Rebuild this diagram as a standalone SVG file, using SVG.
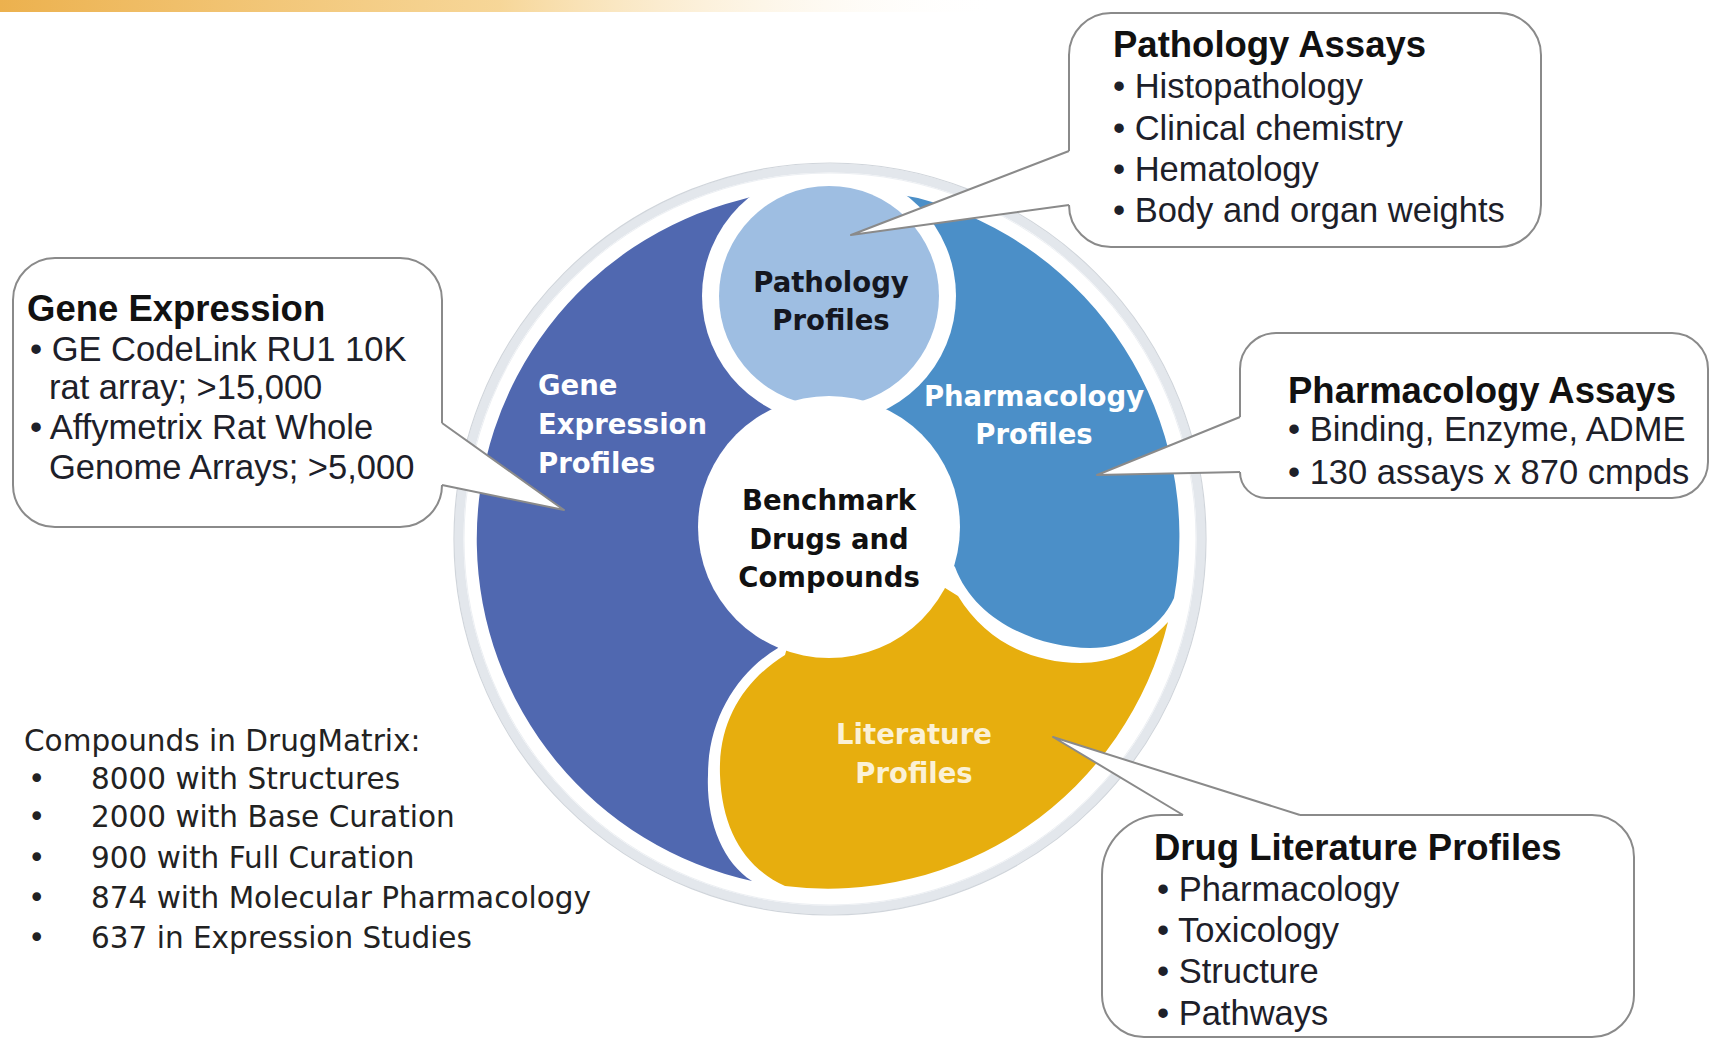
<svg xmlns="http://www.w3.org/2000/svg" width="1711" height="1040" viewBox="0 0 1711 1040">
<defs>
<linearGradient id="topband" x1="0" y1="0" x2="1" y2="0">
<stop offset="0" stop-color="#ECB14E"/>
<stop offset="0.5" stop-color="#F5CF86" stop-opacity="0.85"/>
<stop offset="1" stop-color="#FFFFFF" stop-opacity="0"/>
</linearGradient>
<style>
.bt{font-family:"Liberation Sans",Arial,sans-serif;font-size:34.5px;fill:#1d2029}
.bh{font-family:"Liberation Sans",Arial,sans-serif;font-size:36.5px;font-weight:bold;fill:#111}
.lab{font-family:"DejaVu Sans",Verdana,sans-serif;font-size:27.5px;font-weight:bold}
.lst{font-family:"DejaVu Sans",Verdana,sans-serif;font-size:29.5px;fill:#222}
.cf{fill:#fff}
.co{fill:none;stroke:#8a8a8a;stroke-width:2;stroke-linejoin:round}
</style>
</defs>
<rect width="1711" height="1040" fill="#fff"/>
<rect x="0" y="0" width="1000" height="12" fill="url(#topband)"/>

<g id="wheel">
<g id="gene-expression-profiles">
<path d="M740,200 A350,350 0 0 0 752,881 C722,862 706,820 708,775 C708,718 738,672 778,648 L800,560 L790,420 L800,300 L775,190 Z" fill="#5068B0"/>
</g>
<g id="pharmacology-profiles">
<path d="M918,198 A350,350 0 0 1 1174,598 C1160,630 1125,648 1090,648 C1040,648 975,622 955,567 L880,480 L870,420 L860,300 L885,192 Z" fill="#4B8FC8"/>
</g>
<g id="literature-profiles">
<path d="M785,655 C745,680 718,720 720,775 C722,830 745,868 785,886 A350,350 0 0 0 1168,622 C1140,652 1110,663 1080,663 C1030,663 985,640 958,596 L900,560 L800,600 Z" fill="#E7AE0E"/>
</g>
<g id="pathology-profiles">
<circle cx="829" cy="296" r="127" fill="#fff"/>
<circle cx="829" cy="296" r="110" fill="#9EBEE2"/>
</g>
<g id="benchmark">
<circle cx="829" cy="527" r="131" fill="#fff"/>
</g>
<g id="ring">
<circle cx="830" cy="539" r="371" fill="none" stroke="#e3e7ec" stroke-width="9"/>
<circle cx="830" cy="539" r="376" fill="none" stroke="#d0d5db" stroke-width="1.2"/>
<circle cx="830" cy="539" r="366" fill="none" stroke="#eceff3" stroke-width="1"/>
</g>
<g id="wheel-labels">
<text class="lab" fill="#fff"><tspan x="538" y="395">Gene</tspan><tspan x="538" y="434">Expression</tspan><tspan x="538" y="473">Profiles</tspan></text>
<text class="lab" fill="#15171f" text-anchor="middle"><tspan x="831" y="292">Pathology</tspan><tspan x="831" y="330">Profiles</tspan></text>
<text class="lab" fill="#fff" text-anchor="middle"><tspan x="1034" y="406">Pharmacology</tspan><tspan x="1034" y="444">Profiles</tspan></text>
<text class="lab" fill="#111" text-anchor="middle"><tspan x="829" y="510">Benchmark</tspan><tspan x="829" y="549">Drugs and</tspan><tspan x="829" y="587">Compounds</tspan></text>
<text class="lab" fill="#fbf1d6" text-anchor="middle"><tspan x="914" y="744">Literature</tspan><tspan x="914" y="783">Profiles</tspan></text>
</g>
</g>

<g id="callout-pathology-assays">
<path class="cf" d="M1111,13 H1499 A42,42 0 0 1 1541,55 V205 A42,42 0 0 1 1499,247 H1111 A42,42 0 0 1 1069,205 L851,235 L1069,151 V55 A42,42 0 0 1 1111,13 Z"/>
<path class="co" d="M1069,151 V55 A42,42 0 0 1 1111,13 H1499 A42,42 0 0 1 1541,55 V205 A42,42 0 0 1 1499,247 H1111 A42,42 0 0 1 1069,205"/>
<text class="bh" x="1113" y="57">Pathology Assays</text>
<text class="bt" x="1113" y="98">• Histopathology</text>
<text class="bt" x="1113" y="140">• Clinical chemistry</text>
<text class="bt" x="1113" y="181">• Hematology</text>
<text class="bt" x="1113" y="222">• Body and organ weights</text>
</g>

<g id="callout-gene-expression">
<path class="cf" d="M55,258 H400 A42,42 0 0 1 442,300 V423 L564,510 L442,485 A42,42 0 0 1 400,527 H55 A42,42 0 0 1 13,485 V300 A42,42 0 0 1 55,258 Z"/>
<path class="co" d="M442,485 A42,42 0 0 1 400,527 H55 A42,42 0 0 1 13,485 V300 A42,42 0 0 1 55,258 H400 A42,42 0 0 1 442,300 V423"/>
<text class="bh" x="27" y="321">Gene Expression</text>
<text class="bt" x="30" y="361">• GE CodeLink RU1 10K</text>
<text class="bt" x="49" y="399">rat array; &gt;15,000</text>
<text class="bt" x="30" y="439">• Affymetrix Rat Whole</text>
<text class="bt" x="49" y="479">Genome Arrays; &gt;5,000</text>
</g>

<g id="callout-pharmacology-assays">
<path class="cf" d="M1276,333 H1672 A36,36 0 0 1 1708,369 V462 A36,36 0 0 1 1672,498 H1266 A26,26 0 0 1 1240,472 L1097,475 L1240,417 V369 A36,36 0 0 1 1276,333 Z"/>
<path class="co" d="M1240,417 V369 A36,36 0 0 1 1276,333 H1672 A36,36 0 0 1 1708,369 V462 A36,36 0 0 1 1672,498 H1266 A26,26 0 0 1 1240,472"/>
<text class="bh" x="1288" y="403">Pharmacology Assays</text>
<text class="bt" x="1288" y="441">• Binding, Enzyme, ADME</text>
<text class="bt" x="1288" y="484">• 130 assays x 870 cmpds</text>
</g>

<g id="callout-drug-literature">
<path class="cf" d="M1162,815 H1183 L1053,737 L1300,815 H1592 A42,42 0 0 1 1634,857 V995 A42,42 0 0 1 1592,1037 H1144 A42,42 0 0 1 1102,995 V875 A60,60 0 0 1 1162,815 Z"/>
<path class="co" d="M1300,815 H1592 A42,42 0 0 1 1634,857 V995 A42,42 0 0 1 1592,1037 H1144 A42,42 0 0 1 1102,995 V875 A60,60 0 0 1 1162,815 H1183"/>
<text class="bh" x="1154" y="860">Drug Literature Profiles</text>
<text class="bt" x="1157" y="901">• Pharmacology</text>
<text class="bt" x="1157" y="942">• Toxicology</text>
<text class="bt" x="1157" y="983">• Structure</text>
<text class="bt" x="1157" y="1025">• Pathways</text>
</g>

<g id="compounds-list">
<text class="lst" x="24" y="751">Compounds in DrugMatrix:</text>
<text class="lst" x="28" y="789">•</text><text class="lst" x="91" y="789">8000 with Structures</text>
<text class="lst" x="28" y="827">•</text><text class="lst" x="91" y="827">2000 with Base Curation</text>
<text class="lst" x="28" y="868">•</text><text class="lst" x="91" y="868">900 with Full Curation</text>
<text class="lst" x="28" y="908">•</text><text class="lst" x="91" y="908">874 with Molecular Pharmacology</text>
<text class="lst" x="28" y="948">•</text><text class="lst" x="91" y="948">637 in Expression Studies</text>
</g>

<g id="connectors">
<path class="co" d="M1069,205 L851,235 L1069,151"/>
<path class="co" d="M442,423 L564,510 L442,485"/>
<path class="co" d="M1240,472 L1097,475 L1240,417"/>
<path class="co" d="M1183,815 L1053,737 L1300,815"/>
</g>
</svg>
